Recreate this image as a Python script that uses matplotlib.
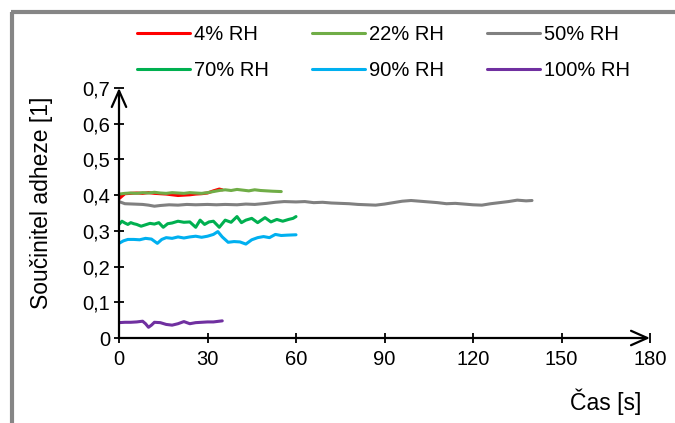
import matplotlib
matplotlib.use("Agg")
import matplotlib.pyplot as plt
from matplotlib.lines import Line2D

plt.rcParams['font.family'] = ['Liberation Sans', 'DejaVu Sans']

# Time [s] and adhesion coefficient for each relative humidity
t_4 = [0, 1, 2, 4, 6, 8, 10, 12, 14, 16, 18, 20, 22, 24, 26, 28, 30, 32, 34, 35]
v_4 = [0.390, 0.397, 0.404, 0.405, 0.406, 0.405, 0.407, 0.405, 0.404, 0.403,
       0.401, 0.399, 0.400, 0.401, 0.403, 0.404, 0.406, 0.412, 0.417, 0.415]

t_22 = [0, 2, 4, 6, 8, 10, 12, 14, 16, 18, 20, 22, 24, 26, 28, 30, 32, 34,
        36, 38, 40, 42, 44, 46, 48, 50, 52, 55]
v_22 = [0.403, 0.405, 0.406, 0.405, 0.407, 0.406, 0.408, 0.406, 0.405, 0.407,
        0.406, 0.405, 0.407, 0.406, 0.405, 0.407, 0.410, 0.413, 0.415, 0.413,
        0.416, 0.414, 0.412, 0.415, 0.413, 0.412, 0.411, 0.410]

t_50 = [0, 2, 5, 8, 10, 12, 14, 17, 20, 23, 26, 30, 33, 36, 40, 43, 46, 50,
        53, 56, 60, 63, 66, 69, 72, 75, 78, 81, 84, 87, 90, 93, 96, 99, 102,
        105, 108, 111, 114, 117, 120, 123, 126, 129, 132, 135, 138, 140]
v_50 = [0.382, 0.376, 0.375, 0.374, 0.372, 0.369, 0.371, 0.373, 0.372, 0.374,
        0.373, 0.374, 0.373, 0.374, 0.373, 0.375, 0.374, 0.377, 0.380, 0.382,
        0.381, 0.382, 0.379, 0.380, 0.378, 0.377, 0.376, 0.374, 0.373, 0.372,
        0.375, 0.379, 0.383, 0.385, 0.383, 0.381, 0.379, 0.376, 0.377, 0.375,
        0.373, 0.372, 0.376, 0.379, 0.382, 0.386, 0.384, 0.385]

t_70 = [0, 1, 2, 3, 4, 5, 6, 7.5, 9, 10.5, 12, 13.5, 15, 16.5, 18, 20, 22, 24,
        26, 27.5, 29, 30.5, 32, 34, 36, 38, 40, 41.5, 43, 45, 47, 49.5, 51.5,
        53.5, 55.5, 57.5, 59, 60]
v_70 = [0.318, 0.327, 0.322, 0.318, 0.323, 0.320, 0.318, 0.313, 0.317, 0.321,
        0.319, 0.323, 0.310, 0.320, 0.322, 0.327, 0.324, 0.325, 0.310, 0.330,
        0.318, 0.325, 0.327, 0.310, 0.330, 0.324, 0.340, 0.323, 0.330, 0.335,
        0.323, 0.337, 0.325, 0.332, 0.327, 0.332, 0.335, 0.340]

t_90 = [0, 1.5, 3, 5, 7, 9, 11, 13, 14.5, 16, 18, 20, 22, 24, 26, 28, 30, 32,
        33.5, 35, 37, 39, 41, 43, 45, 47, 49, 51, 53, 55, 57, 60]
v_90 = [0.265, 0.272, 0.276, 0.276, 0.275, 0.279, 0.277, 0.265, 0.276, 0.281,
        0.279, 0.283, 0.280, 0.283, 0.285, 0.282, 0.285, 0.290, 0.298, 0.283,
        0.268, 0.270, 0.269, 0.263, 0.275, 0.281, 0.284, 0.281, 0.290, 0.287,
        0.288, 0.289]

t_100 = [0, 2, 4, 6, 8, 9, 10, 11, 12, 14, 16, 18, 20, 22, 24, 26, 28, 30, 32, 35]
v_100 = [0.043, 0.044, 0.044, 0.045, 0.047, 0.040, 0.030, 0.036, 0.044, 0.043,
         0.038, 0.036, 0.040, 0.046, 0.040, 0.043, 0.044, 0.045, 0.045, 0.048]

labels = ["4% RH", "22% RH", "50% RH", "70% RH", "90% RH", "100% RH"]
colors = ["#FF0000", "#70AD47", "#808080", "#00B050", "#00B0F0", "#7030A0"]
series = [(t_4, v_4), (t_22, v_22), (t_50, v_50),
          (t_70, v_70), (t_90, v_90), (t_100, v_100)]

x_ticks = [0, 30, 60, 90, 120, 150, 180]
y_ticks = [0, 0.1, 0.2, 0.3, 0.4, 0.5, 0.6, 0.7]

W, H = 675, 423
fig = plt.figure(figsize=(W / 100, H / 100), dpi=100)
ax = fig.add_axes([119 / W, 1 - 338 / H, (650 - 119) / W, (338 - 88) / H])

handles = []
for (t, v), c, lab in zip(series, colors, labels):
    h, = ax.plot(t, v, color=c, lw=2.2, label=lab, solid_capstyle='round',
                 solid_joinstyle='round')
    handles.append(h)

ax.set_xlim(0, 180)
ax.set_ylim(0, 0.7)
ax.set_xticks(x_ticks)
ax.set_yticks(y_ticks)
ax.set_xticklabels([str(x) for x in x_ticks])
ax.set_yticklabels(["0" if y == 0 else f"{y:.1f}".replace(".", ",") for y in y_ticks])
ax.tick_params(direction='inout', length=7, width=1.3, labelsize=14.5, color='black')
ax.tick_params(axis='x', pad=5)
ax.tick_params(axis='y', pad=3)

for s in ax.spines.values():
    s.set_visible(False)

arrow = dict(arrowstyle='->,head_length=0.9,head_width=0.4', lw=1.6,
             color='black', mutation_scale=13, shrinkA=0, shrinkB=0)
ax.annotate('', xy=(1, 0), xytext=(0, 0), xycoords='axes fraction',
            textcoords='axes fraction', arrowprops=arrow, annotation_clip=False)
ax.annotate('', xy=(0, 1), xytext=(0, 0), xycoords='axes fraction',
            textcoords='axes fraction', arrowprops=arrow, annotation_clip=False)

fig.text(42 / W, 1 - 203 / H, "Součinitel adheze [1]", rotation=90,
         ha='center', va='center', fontsize=16.5)
fig.text(641 / W, 1 - 402 / H, "Čas [s]", ha='right', va='center', fontsize=16.5)

# legend filled column by column, so reorder to read row by row
order = [0, 3, 1, 4, 2, 5]
fig.legend([handles[i] for i in order], [labels[i] for i in order],
           ncol=3, loc='upper left', bbox_to_anchor=(137 / W, 1 - 25 / H),
           frameon=False, fontsize=14.5, handlelength=2.63, handletextpad=0.2,
           columnspacing=2.13, labelspacing=0.85, borderpad=0, borderaxespad=0)

# outer chart border
border = dict(color='#868686', lw=3, solid_capstyle='butt')
fig.add_artist(Line2D([12 / W, 12 / W], [0, 1 - 12 / H], transform=fig.transFigure, **border))
fig.add_artist(Line2D([10.5 / W, 1], [1 - 12 / H, 1 - 12 / H], transform=fig.transFigure, **border))

fig.savefig("out.png", dpi=100)
